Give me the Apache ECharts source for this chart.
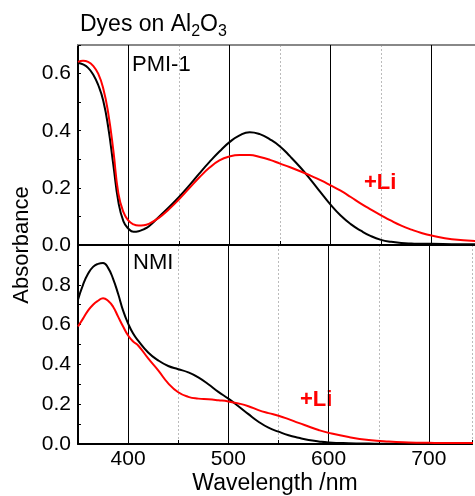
<!DOCTYPE html>
<html>
<head>
<meta charset="utf-8">
<script src="https://cdn.jsdelivr.net/npm/echarts@6/dist/echarts.min.js"></script>
<style>html,body{margin:0;padding:0;background:#fff}#c{width:475px;height:496px}</style>
</head>
<body>
<div id="c"></div>
<script>
// Top panel (PMI-1)
const wlTop = [350,355,360,365,370,375,380,385,390,395,400,405,410,415,420,430,440,450,460,470,480,490,500,510,520,530,540,550,560,570,580,590,600,610,620,630,640,650,660,670,680,690,700,720,750];
const pmi1   = [0.638,0.632,0.620,0.597,0.560,0.505,0.410,0.280,0.150,0.083,0.057,0.046,0.048,0.055,0.065,0.098,0.132,0.168,0.208,0.250,0.290,0.327,0.360,0.384,0.395,0.388,0.370,0.345,0.310,0.272,0.230,0.185,0.141,0.103,0.073,0.050,0.031,0.018,0.011,0.007,0.005,0.004,0.004,0.003,0.002];
const pmi1Li = [0.641,0.645,0.641,0.627,0.600,0.548,0.460,0.330,0.180,0.115,0.085,0.072,0.068,0.069,0.074,0.095,0.125,0.160,0.198,0.236,0.270,0.296,0.310,0.315,0.315,0.308,0.298,0.285,0.272,0.258,0.243,0.227,0.209,0.190,0.168,0.145,0.124,0.104,0.085,0.068,0.054,0.042,0.033,0.020,0.013];
// Bottom panel (NMI)
const wlBottom = [350,355,360,365,370,375,380,385,390,395,400,405,410,420,430,440,450,460,470,480,490,500,510,520,530,540,550,560,570,580,590,600,620,640,660,680,700,720,750];
const nmi   = [0.725,0.800,0.855,0.890,0.905,0.910,0.885,0.830,0.755,0.670,0.605,0.555,0.520,0.460,0.420,0.392,0.376,0.360,0.335,0.300,0.262,0.228,0.190,0.150,0.112,0.082,0.062,0.044,0.031,0.020,0.013,0.008,0.004,0.002,0.001,0.001,0.001,0.001,0.001];
const nmiLi = [0.590,0.630,0.670,0.700,0.720,0.733,0.720,0.690,0.640,0.590,0.545,0.515,0.495,0.430,0.370,0.305,0.260,0.237,0.228,0.225,0.220,0.214,0.204,0.190,0.170,0.155,0.142,0.125,0.106,0.088,0.070,0.056,0.035,0.020,0.012,0.008,0.006,0.005,0.005];
const xMajorTicks = [400,500,600,700];
const xRange = [350,743];
const yRangeTop = [0,0.7];
const yRangeBottom = [0,1.0];

const FONT = 'Liberation Sans, Arial, Helvetica, sans-serif';
const pairs = (xs, ys) => xs.map((x,i)=>[x, ys[i]]);
const evenLabel = (max) => (v) => {
  const k = Math.round(v*10);
  if (k % 2 !== 0 || (max >= 0.95 && v >= max - 1e-9)) return '';
  return (k/10).toFixed(1);
};
const majorLines = {
  z: 1, silent: true, symbol: ['none','none'], animation: false,
  label: {show: false},
  lineStyle: {color: '#000', width: 1, type: 'solid'},
  emphasis: {disabled: true},
  data: xMajorTicks.map(v => ({xAxis: v}))
};
const xBase = (grid, showLabels) => ({
  type: 'value', gridIndex: grid, min: xRange[0], max: xRange[1], interval: 50,
  axisLine: {show: true, onZero: false, lineStyle: {color: '#000', width: 2}},
  axisTick: {show: true, inside: true, length: 4, lineStyle: {color: '#000', width: 1}},
  splitLine: {show: true, lineStyle: {color: '#bbb', width: 1, type: [2,2]}},
  axisLabel: {show: showLabels, margin: 5, fontFamily: FONT, fontSize: 21, color: '#000',
    formatter: v => (xMajorTicks.indexOf(v) >= 0 ? String(v) : '')}
});
const yBase = (grid, range) => ({
  type: 'value', gridIndex: grid, min: range[0], max: range[1], interval: 0.1,
  axisLine: {show: true, onZero: false, lineStyle: {color: '#000', width: 2}},
  axisTick: {show: true, inside: true, length: 3, lineStyle: {color: '#000', width: 1}},
  splitLine: {show: false},
  axisLabel: {margin: 7, fontFamily: FONT, fontSize: 21, color: '#000', formatter: evenLabel(range[1])}
});
const lineSeries = (xi, xs, ys, color, z, extra) => Object.assign({
  type: 'line', xAxisIndex: xi, yAxisIndex: xi, data: pairs(xs, ys), showSymbol: false, smooth: 0.5,
  clip: true,
  lineStyle: {color: color, width: 2}, itemStyle: {color: color}, z: z
}, extra || {});

const chart = echarts.init(document.getElementById('c'), null, {renderer: 'canvas'});
const xTop = xBase(0, false);
const xBottom = xBase(1, true);
xBottom.name = 'Wavelength /nm';
xBottom.nameLocation = 'middle';
xBottom.nameGap = 28;
xBottom.nameTextStyle = {fontFamily: FONT, fontSize: 23, color: '#000'};
chart.setOption({
  animation: false,
  backgroundColor: '#fff',
  title: {
    left: 80, top: 10, padding: 0,
    text: '{a|Dyes on Al}{s|2}{a|O}{s|3}',
    textStyle: {
      fontWeight: 'normal',
      rich: {
        a: {fontFamily: FONT, fontSize: 23, fontWeight: 'normal', color: '#000', lineHeight: 30},
        s: {fontFamily: FONT, fontSize: 16, fontWeight: 'normal', color: '#000', lineHeight: 12, verticalAlign: 'bottom'}
      }
    }
  },
  grid: [
    {left: 78, right: 0, top: 45, height: 200},
    {left: 78, right: 0, top: 245, height: 199}
  ],
  xAxis: [
    xTop,
    xBottom,
    {type: 'value', gridIndex: 0, position: 'top', min: xRange[0], max: xRange[1],
     axisLine: {show: true, onZero: false, lineStyle: {color: '#888', width: 2}},
     axisTick: {show: false}, axisLabel: {show: false}, splitLine: {show: false}}
  ],
  yAxis: [yBase(0, yRangeTop), yBase(1, yRangeBottom)],
  series: [
    lineSeries(0, wlTop, pmi1, '#000', 3, {markLine: majorLines}),
    lineSeries(0, wlTop, pmi1Li, '#ff0000', 4),
    lineSeries(1, wlBottom, nmi, '#000', 3, {markLine: majorLines}),
    lineSeries(1, wlBottom, nmiLi, '#ff0000', 4)
  ],
  graphic: [
    {type: 'text', left: 132, top: 54, style: {text: 'PMI-1', font: '22px ' + FONT, fill: '#000'}},
    {type: 'text', left: 133, top: 252, style: {text: 'NMI', font: '22px ' + FONT, fill: '#000'}},
    {type: 'text', left: 364, top: 172, style: {text: '+Li', font: 'bold 22px ' + FONT, fill: '#ff0000'}},
    {type: 'text', left: 300, top: 389, style: {text: '+Li', font: 'bold 22px ' + FONT, fill: '#ff0000'}},
    {type: 'text', x: 22, y: 245, rotation: Math.PI/2,
     style: {text: 'Absorbance', font: '22px ' + FONT, fill: '#000', textAlign: 'center', textVerticalAlign: 'middle'}}
  ]
});
</script>
</body>
</html>
